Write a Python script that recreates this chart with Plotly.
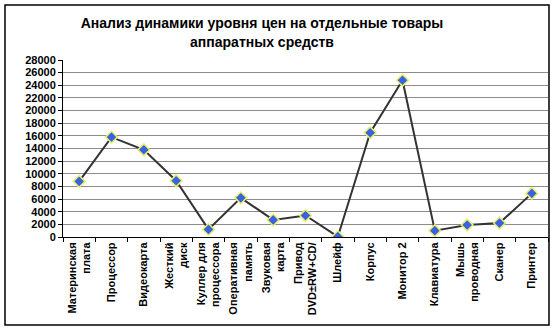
import plotly.graph_objects as go

categories = ["Материнская<br>плата", "Процессор", "Видеокарта", "Жесткий<br>диск",
              "Куллер для<br>процессора", "Оперативная<br>память", "Звуковая<br>карта",
              "Привод<br>DVD±RW+CD/", "Шлейф", "Корпус", "Монитор 2", "Клавиатура",
              "Мышь<br>проводная", "Сканер", "Принтер"]
prices = [8800, 15800, 13800, 8900, 1200, 6200, 2700, 3400, 50, 16500, 24800, 1000, 1900, 2200, 6900]
y_ticks = list(range(0, 28001, 2000))

fig = go.Figure(go.Scatter(
    x=categories, y=prices, mode="lines+markers",
    line=dict(color="#333333", width=2),
    marker=dict(symbol="diamond", size=9, color="#3a62e0",
                line=dict(color="#e6f06a", width=1.5)),
))

L, R, T, B = 63, 7, 60, 93
W, H = 555, 330
pw, ph = W - L - R, H - T - B

fig.update_layout(
    width=W, height=H, margin=dict(l=L, r=R, t=T, b=B),
    paper_bgcolor="white", plot_bgcolor="white", showlegend=False,
    font=dict(family="Liberation Sans, Arial", color="black"),
    title=dict(text="<b>Анализ динамики уровня цен на отдельные товары<br>аппаратных средств</b>",
               x=262 / W, xanchor="center", y=0.914, yanchor="top",
               font=dict(size=14, color="black")),
    xaxis=dict(type="category", tickangle=-90, showgrid=False,
               showline=True, linecolor="black", linewidth=1,
               ticks="outside", ticklen=4, tickcolor="black", tickson="boundaries",
               tickfont=dict(size=11, weight="bold"), range=[-0.5, len(categories) - 0.5]),
    yaxis=dict(range=[0, 28000], tickvals=y_ticks, ticktext=[str(v) for v in y_ticks],
               showgrid=True, gridcolor="#8c8c8c", gridwidth=1,
               showline=True, linecolor="black", linewidth=1,
               ticks="outside", ticklen=4, tickcolor="black",
               tickfont=dict(size=11, weight="bold"), zeroline=False),
)

fig.add_shape(type="rect", xref="paper", yref="paper",
              x0=(5 - L) / pw, x1=(549 - L) / pw,
              y0=(H - B - 325) / ph, y1=(H - B - 5) / ph,
              line=dict(color="black", width=1.5), fillcolor="rgba(0,0,0,0)", layer="below")

fig.write_html("out.html")
